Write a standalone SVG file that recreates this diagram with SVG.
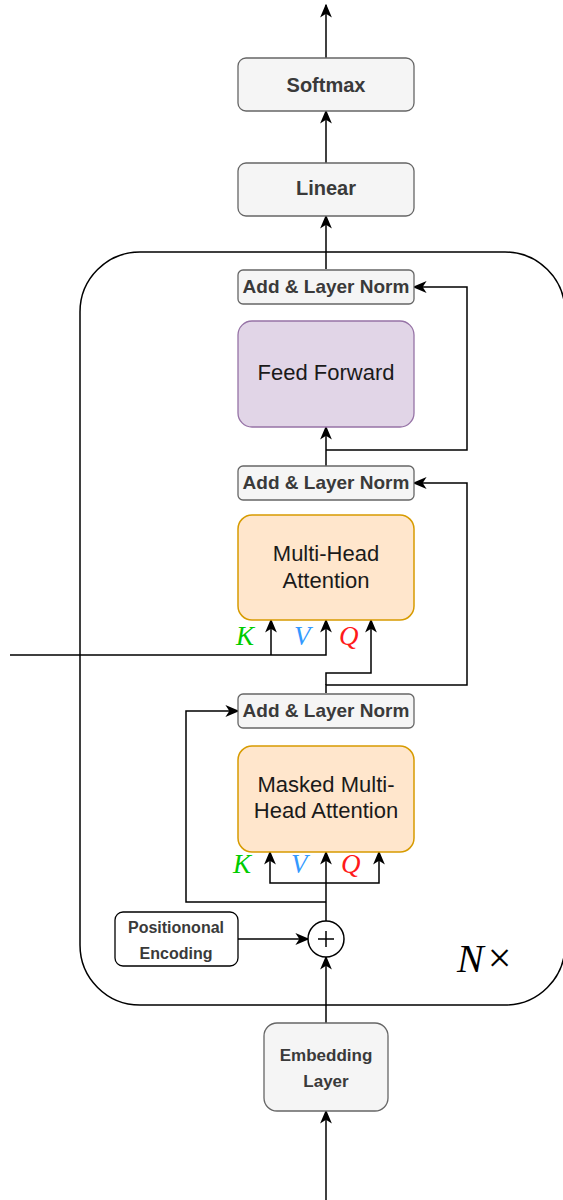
<svg xmlns="http://www.w3.org/2000/svg" width="563" height="1200" viewBox="0 0 563 1200">
  <style>
    .gray { fill: #f5f5f5; stroke: #666666; stroke-width: 1.3; }
    .ff { fill: #e1d5e7; stroke: #9673a6; stroke-width: 1.3; }
    .mha { fill: #ffe6cc; stroke: #d79b00; stroke-width: 1.5; }
    .lbl { font-family: "Liberation Sans", Arial, sans-serif; text-anchor: middle; }
    .glbl { fill: #3a3a3a; font-weight: bold; }
    .blbl { fill: #1a1a1a; font-size: 22px; }
    .wire { fill: none; stroke: #000000; stroke-width: 1.5; }
    .arr { marker-end: url(#head); }
    .math { font-family: "Liberation Serif", "Times New Roman", serif; font-style: italic; font-size: 27px; }
  </style>
  <defs>
    <marker id="head" viewBox="0 0 10 10" refX="9" refY="5" markerWidth="14" markerHeight="14" markerUnits="userSpaceOnUse" orient="auto">
      <path d="M0,0.8 L10,5 L0,9.2 L2.8,5 z" fill="#000000"/>
    </marker>
  </defs>

  <rect width="563" height="1200" fill="#ffffff"/>

  <!-- decoder block frame -->
  <g id="block">
    <rect x="80" y="252" width="485" height="753" rx="60" fill="none" stroke="#000000" stroke-width="1.5"/>
    <text x="457" y="972" font-family="Liberation Serif, Times New Roman, serif" font-size="40"><tspan font-style="italic">N</tspan><tspan dx="4" font-size="42">×</tspan></text>
  </g>

  <g id="connectors">
    <path class="wire arr" d="M326,58 V5"/>
    <path class="wire arr" d="M326,163 V111"/>
    <path class="wire arr" d="M326,269 V216"/>
    <path class="wire arr" d="M326,466 V427"/>
    <path class="wire arr" d="M326,450 H467 V287 H414"/>
    <path class="wire arr" d="M326,693 V685 H467 V483 H414"/>
    <path class="wire arr" d="M326,685 V673 H371 V620"/>
    <path class="wire arr" d="M10,655 H326 V620"/>
    <path class="wire arr" d="M271,655 V620"/>
    <path class="wire arr" d="M326,921 V852"/>
    <path class="wire arr" d="M326,883 H270 V852"/>
    <path class="wire arr" d="M326,883 H379 V852"/>
    <path class="wire arr" d="M326,902 H186 V711 H238"/>
    <path class="wire arr" d="M238,939 H308"/>
    <path class="wire arr" d="M326,1023 V957"/>
    <path class="wire arr" d="M326,1200 V1111"/>
  </g>

  <g id="softmax">
    <rect class="gray" x="238" y="58" width="176" height="53" rx="8"/>
    <text class="lbl glbl" x="326" y="92" font-size="20">Softmax</text>
  </g>

  <g id="linear">
    <rect class="gray" x="238" y="163" width="176" height="53" rx="8"/>
    <text class="lbl glbl" x="326" y="195" font-size="20">Linear</text>
  </g>

  <g id="addnorm3">
    <rect class="gray" x="238" y="270" width="176" height="34" rx="5"/>
    <text class="lbl glbl" x="326" y="293" font-size="19">Add &amp; Layer Norm</text>
  </g>

  <g id="feedforward">
    <rect class="ff" x="238" y="321" width="176" height="106" rx="14"/>
    <text class="lbl blbl" x="326" y="380">Feed Forward</text>
  </g>

  <g id="addnorm2">
    <rect class="gray" x="238" y="466" width="176" height="34" rx="5"/>
    <text class="lbl glbl" x="326" y="489" font-size="19">Add &amp; Layer Norm</text>
  </g>

  <g id="cross-attention">
    <rect class="mha" x="238" y="515" width="176" height="105" rx="14"/>
    <text class="lbl blbl" x="326" y="561">Multi-Head</text>
    <text class="lbl blbl" x="326" y="588">Attention</text>
    <text class="math" x="236" y="645" fill="#00cc00">K</text>
    <text class="math" x="294" y="645" fill="#3399ff">V</text>
    <text class="math" x="339" y="645" fill="#ff1a1a">Q</text>
  </g>

  <g id="addnorm1">
    <rect class="gray" x="238" y="694" width="176" height="34" rx="5"/>
    <text class="lbl glbl" x="326" y="717" font-size="19">Add &amp; Layer Norm</text>
  </g>

  <g id="masked-attention">
    <rect class="mha" x="238" y="746" width="176" height="106" rx="14"/>
    <text class="lbl blbl" x="326" y="792">Masked Multi-</text>
    <text class="lbl blbl" x="326" y="818">Head Attention</text>
    <text class="math" x="233" y="873" fill="#00cc00">K</text>
    <text class="math" x="291" y="873" fill="#3399ff">V</text>
    <text class="math" x="341" y="873" fill="#ff1a1a">Q</text>
  </g>

  <g id="positional-encoding">
    <rect x="115" y="912" width="123" height="54" rx="8" fill="#ffffff" stroke="#000000" stroke-width="1.3"/>
    <text class="lbl glbl" x="176" y="933" font-size="16">Positiononal</text>
    <text class="lbl glbl" x="176" y="959" font-size="16">Encoding</text>
  </g>

  <g id="add">
    <circle cx="326" cy="939" r="18" fill="#ffffff" stroke="#000000" stroke-width="1.5"/>
    <path d="M318,939 H334 M326,931 V947" stroke="#000000" stroke-width="1.5"/>
  </g>

  <g id="embedding">
    <rect class="gray" x="264" y="1023" width="124" height="88" rx="13"/>
    <text class="lbl glbl" x="326" y="1061" font-size="17">Embedding</text>
    <text class="lbl glbl" x="326" y="1087" font-size="17">Layer</text>
  </g>
</svg>
